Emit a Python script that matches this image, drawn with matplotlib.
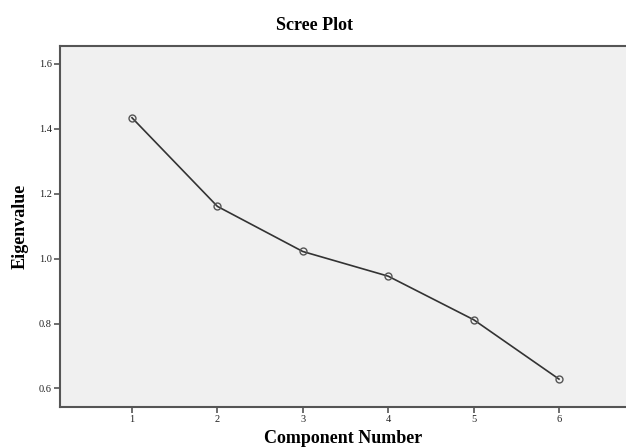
import matplotlib
matplotlib.use('Agg')
import matplotlib.pyplot as plt

# scree plot values
components = [1, 2, 3, 4, 5, 6]
eigenvalues = [1.434, 1.161, 1.022, 0.946, 0.812, 0.629]
y_ticks = [0.6, 0.8, 1.0, 1.2, 1.4, 1.6]

plt.rcParams['font.family'] = ['Liberation Serif', 'DejaVu Serif']

fig = plt.figure(figsize=(6.26, 4.48), dpi=100)
ax = fig.add_axes([60 / 626, 1 - 407 / 448, 1 - 60 / 626, (407 - 46) / 448])
ax.set_facecolor('#f0f0f0')

ax.plot(components, eigenvalues, color='#333333', linewidth=1.2,
        marker='o', markersize=5, markerfacecolor='none',
        markeredgecolor='#555555', markeredgewidth=1.0)

ax.set_xlim(0.157, 6.785)
ax.set_ylim(0.543, 1.655)
ax.set_xticks(components)
ax.set_yticks(y_ticks)
ax.set_yticklabels([f'{v:.1f}' for v in y_ticks])

for side in ['left', 'bottom', 'top']:
    ax.spines[side].set_color('#555555')
    ax.spines[side].set_linewidth(1.5)
ax.spines['right'].set_visible(False)
ax.tick_params(axis='both', direction='out', length=4, width=1.2,
               color='#555555', labelcolor='#222222', labelsize=7.5, pad=2)

# title sits a bit left of the axes centre in the reference
fig.text(315 / 626, 1 - 25 / 448, 'Scree Plot', fontsize=13,
         fontweight='bold', ha='center', va='center')
ax.set_xlabel('Component Number', fontsize=13, fontweight='bold', labelpad=4)
ax.set_ylabel('Eigenvalue', fontsize=13, fontweight='bold')
ax.yaxis.set_label_coords(-0.055, 0.5)

fig.savefig('out.png', dpi=100)
